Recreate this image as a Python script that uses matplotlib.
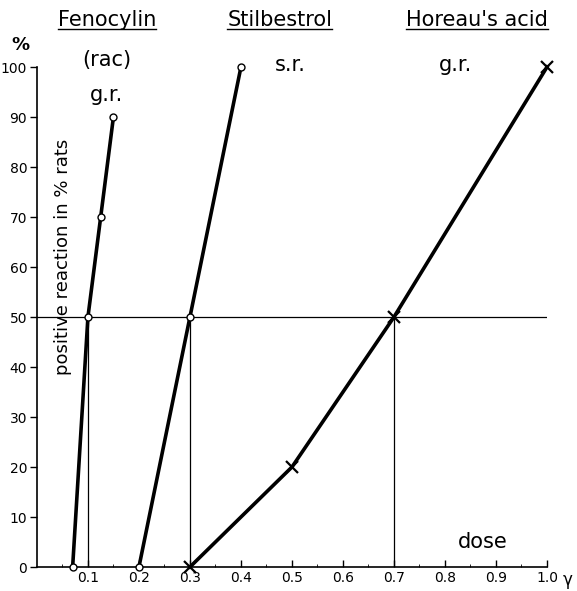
import numpy as np
import matplotlib
matplotlib.use("Agg")
import matplotlib.pyplot as plt
from matplotlib.lines import Line2D

# dose (gamma) vs positive reaction (% rats)
feno_dose = [0.07, 0.10, 0.125, 0.15]
feno_resp = [0, 50, 70, 90]
stil_dose = [0.20, 0.30, 0.40]
stil_resp = [0, 50, 100]
hor_dose = [0.30, 0.50, 0.70, 1.00]
hor_resp = [0, 20, 50, 100]
ed50 = [0.10, 0.30, 0.70]

x_ticks = [0.1, 0.2, 0.3, 0.4, 0.5, 0.6, 0.7, 0.8, 0.9, 1.0]
y_ticks = list(range(0, 101, 10))

plt.rcParams['font.family'] = ['DejaVu Sans']

fig = plt.figure(figsize=(5.77, 5.91), dpi=100)
ax = fig.add_axes([0.064, 0.0406, 0.884, 0.846])

ax.plot(feno_dose, feno_resp, color='black', lw=2.6, marker='o', ms=5,
        mfc='white', mec='black', mew=1, clip_on=False, zorder=3)
ax.plot(stil_dose, stil_resp, color='black', lw=2.6, marker='o', ms=5,
        mfc='white', mec='black', mew=1, clip_on=False, zorder=3)
ax.plot(hor_dose, hor_resp, color='black', lw=2.6, marker='x', ms=8,
        mew=1.6, clip_on=False, zorder=3)

ax.axhline(50, color='black', lw=0.9)
for d in ed50:
    ax.plot([d, d], [0, 50], color='black', lw=0.9)

ax.set_xlim(0, 1.0)
ax.set_ylim(0, 100)
for s in ['top', 'right']:
    ax.spines[s].set_visible(False)
ax.spines['left'].set_linewidth(1.2)
ax.spines['bottom'].set_linewidth(1.2)

ax.set_xticks(x_ticks)
ax.set_xticklabels([f'{v:.1f}' for v in x_ticks], fontsize=10)
ax.set_xticks(np.arange(0.05, 1.0, 0.05), minor=True)
ax.tick_params(axis='x', direction='in', length=5, width=1, pad=3)
ax.tick_params(axis='x', which='minor', direction='in', length=2.5)
ax.set_yticks(y_ticks)
ax.set_yticklabels([str(v) for v in y_ticks], fontsize=10)
ax.tick_params(axis='y', direction='out', length=5, width=1, pad=2)

ax.text(0.051, 62, 'positive reaction in % rats', rotation=90,
        ha='center', va='center', fontsize=13)
ax.text(0.875, 5, 'dose', ha='center', va='center', fontsize=15)
ax.text(1.03, -2.6, 'γ', ha='left', va='center', fontsize=12,
        clip_on=False)
ax.text(-0.033, 104.5, '%', ha='center', va='center', fontsize=13,
        fontweight='bold', clip_on=False)

titles = [('Fenocylin', 0.137), ('Stilbestrol', 0.476), ("Horeau's acid", 0.862)]
title_objs = []
for name, xc in titles:
    t = ax.text(xc, 109.4, name, ha='center', va='center', fontsize=15,
                clip_on=False)
    title_objs.append(t)

ax.text(0.137, 101.4, '(rac)', ha='center', va='center', fontsize=15)
ax.text(0.137, 94.4, 'g.r.', ha='center', va='center', fontsize=15)
ax.text(0.496, 100.4, 's.r.', ha='center', va='center', fontsize=15)
ax.text(0.82, 100.4, 'g.r.', ha='center', va='center', fontsize=15)

fig.canvas.draw()
r = fig.canvas.get_renderer()
W, H = fig.bbox.width, fig.bbox.height
for t in title_objs:
    bb = t.get_window_extent(r)
    yl = bb.y0 + 1
    fig.add_artist(Line2D([bb.x0 / W, bb.x1 / W], [yl / H, yl / H],
                          color='black', lw=1.0))

fig.savefig('out.png', dpi=100)
